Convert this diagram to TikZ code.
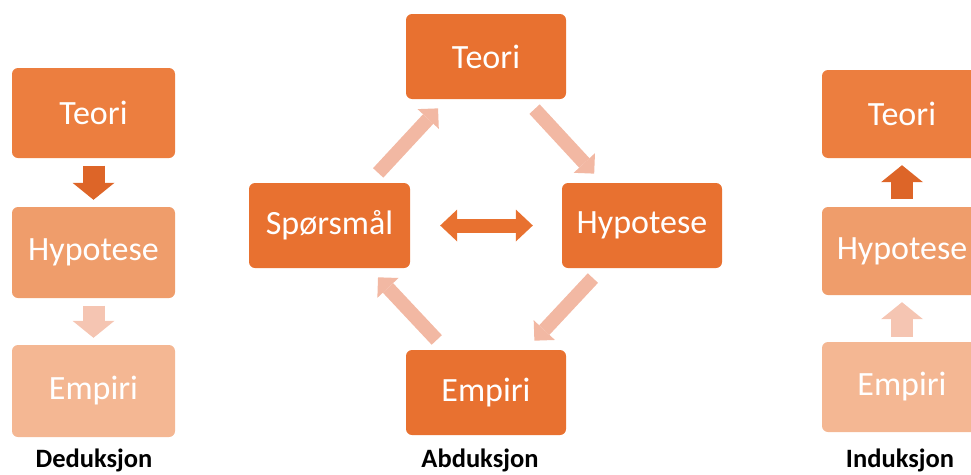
\documentclass[tikz,border=0pt]{standalone}
\usepackage{fontspec}
\setmainfont{Carlito}
\usetikzlibrary{arrows.meta}

\definecolor{oransje}{HTML}{E87130}
\definecolor{teorifarge}{HTML}{EC7E3F}
\definecolor{hypfarge}{HTML}{EF9D6B}
\definecolor{empfarge}{HTML}{F4B793}
\definecolor{pilmork}{HTML}{DD6528}
\definecolor{pillys}{HTML}{F5C5B2}
\definecolor{diagpil}{HTML}{F2B8A3}

\tikzset{
    boks/.style={rectangle, rounded corners=6pt, inner sep=0pt, text=white,
        minimum width=160pt, minimum height=88pt,
        font=\fontsize{34}{40}\selectfont},
    etikett/.style={anchor=base, font=\fontsize{26.5}{31}\selectfont\bfseries},
    loddpil/.style={line width=22pt,
        -{Triangle[width=42pt, length=17pt, line width'=0pt]},
        shorten <=7.5pt, shorten >=7pt},
    skraapil/.style={draw=diagpil, line width=14pt,
        -{Triangle[width=29pt, length=14.5pt, line width'=0pt]},
        shorten <=13.5pt, shorten >=12.5pt},
    dobbelpil/.style={draw=oransje, line width=14pt,
        {Triangle[width=32pt, length=17pt, line width'=0pt]}-{Triangle[width=32pt, length=17pt, line width'=0pt]},
        shorten <=30pt, shorten >=29pt}
}

\begin{document}
\begin{tikzpicture}[x=1pt, y=-1pt]
    \useasboundingbox (0,0) rectangle (971,474);

    % Deduksjon
    \node[boks, fill=teorifarge, minimum width=163pt, minimum height=90pt] (dteori) at (93.5,113) {Teori};
    \node[boks, fill=hypfarge, minimum width=163pt, minimum height=91pt] (dhyp) at (93.5,252.5) {Hypotese};
    \node[boks, fill=empfarge, minimum width=163pt, minimum height=92pt] (demp) at (93.5,391) {Empiri};
    \draw[loddpil, draw=pilmork] (dteori) -- (dhyp);
    \draw[loddpil, draw=pillys] (dhyp) -- (demp);
    \node[etikett] (ded) at (94,467) {Deduksjon};

    % Abduksjon
    \node[boks, fill=oransje, minimum height=85pt] (ateori) at (486,56.5) {Teori};
    \node[boks, fill=oransje, minimum width=161pt, minimum height=85pt] (asp) at (329.5,225.5) {Spørsmål};
    \node[boks, fill=oransje, minimum height=85pt] (ahyp) at (642,225.5) {Hypotese};
    \node[boks, fill=oransje, minimum height=85pt] (aemp) at (486,392.5) {Empiri};
    \draw[skraapil] (asp) -- (ateori);
    \draw[skraapil] (ateori) -- (ahyp);
    \draw[skraapil] (ahyp) -- (aemp);
    \draw[skraapil] (aemp) -- (asp);
    \draw[dobbelpil] (asp) -- (ahyp);
    \node[etikett] (abd) at (480,467) {Abduksjon};

    % Induksjon
    \node[boks, fill=teorifarge] (iteori) at (902,114) {Teori};
    \node[boks, fill=hypfarge] (ihyp) at (902,251) {Hypotese};
    \node[boks, fill=empfarge, minimum height=90pt] (iemp) at (902,387) {Empiri};
    \draw[loddpil, draw=pillys, shorten <=5pt] (iemp) -- (ihyp);
    \draw[loddpil, draw=pilmork] (ihyp) -- (iteori);
    \node[etikett] (ind) at (900,467) {Induksjon};
\end{tikzpicture}
\end{document}
